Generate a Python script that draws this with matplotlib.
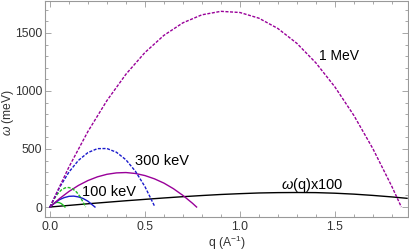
import matplotlib
matplotlib.use("Agg")
import matplotlib.pyplot as plt
from matplotlib.ticker import MultipleLocator

plt.rcParams['font.family'] = ['Liberation Sans', 'DejaVu Sans']
plt.rcParams['mathtext.fontset'] = 'custom'
plt.rcParams['mathtext.rm'] = 'Liberation Sans'
plt.rcParams['mathtext.it'] = 'Liberation Sans:italic'

# 1 MeV (dashed purple)
q_1mev = [0, 0.1, 0.2, 0.3, 0.4, 0.5, 0.6, 0.7, 0.8, 0.9, 1.0, 1.1, 1.2, 1.3, 1.4, 1.5, 1.6, 1.7, 1.8, 1.85]
w_1mev = [0, 345, 651, 917, 1144, 1331, 1479, 1587, 1656, 1686, 1676, 1627, 1538, 1410, 1242, 1035, 789, 503, 177, 0]

# 300 keV (dashed blue)
q_300 = [0, 0.05, 0.1, 0.15, 0.2, 0.25, 0.3, 0.35, 0.4, 0.45, 0.5, 0.553]
w_300 = [0, 167, 301, 402, 469, 503, 504, 472, 407, 308, 176, 0]

# solid purple
q_p = [0, 0.05, 0.1, 0.15, 0.2, 0.25, 0.3, 0.35, 0.4, 0.45, 0.5, 0.55, 0.6, 0.65, 0.7, 0.75, 0.772]
w_p = [0, 72, 134, 186, 228, 260, 282, 294, 297, 289, 271, 243, 206, 158, 100, 33, 0]

# solid blue
q_b = [0, 0.025, 0.05, 0.075, 0.1, 0.125, 0.15, 0.175, 0.2, 0.237]
w_b = [0, 35, 63, 81, 92, 94, 87, 73, 50, 0]

# 100 keV (dashed green)
q_100 = [0, 0.02, 0.04, 0.06, 0.08, 0.1, 0.12, 0.14, 0.16, 0.188]
w_100 = [0, 64, 113, 147, 165, 168, 156, 129, 86, 0]

# solid green
q_g = [0, 0.01, 0.02, 0.03, 0.04, 0.05, 0.06, 0.07, 0.079]
w_g = [0, 18, 30, 38, 40, 37, 29, 16, 0]

# omega(q) x 100 (black)
q_w = [0, 0.1, 0.2, 0.3, 0.4, 0.5, 0.6, 0.7, 0.8, 0.9, 1.0, 1.1, 1.2, 1.3, 1.4, 1.5, 1.6, 1.7, 1.8, 1.88]
w_w = [0, 14, 28, 41, 54, 66, 78, 89, 99, 108, 115, 121, 124, 125, 124, 119, 111, 100, 87, 75]

purple = '#990099'
blue = '#1a1acc'
green = '#22bb22'

fig = plt.figure(figsize=(4.09, 2.52), dpi=100)
ax = fig.add_axes([45 / 409, 1 - 217 / 252, 363 / 409, 216 / 252])

dash = (0, (2.2, 1.1))
ax.plot(q_w, w_w, color='black', lw=1.0)
ax.plot(q_g, w_g, color=green, lw=1.0)
ax.plot(q_b, w_b, color=blue, lw=1.0)
ax.plot(q_p, w_p, color=purple, lw=1.0)
ax.plot(q_100, w_100, color=green, lw=1.0, linestyle=dash)
ax.plot(q_300, w_300, color=blue, lw=1.0, linestyle=dash)
ax.plot(q_1mev, w_1mev, color=purple, lw=1.0, linestyle=dash)

ax.text(1.52, 1304, '1 MeV', fontsize=10, ha='center', va='center')
ax.text(0.59, 397, '300 keV', fontsize=10.5, ha='center', va='center')
ax.text(0.31, 131, '100 keV', fontsize=10.5, ha='center', va='center')
ax.text(1.38, 189, r'$\omega$(q)x100', fontsize=10.5, ha='center', va='center')

ax.set_xlim(-0.026, 1.885)
ax.set_ylim(-86, 1775)
ax.xaxis.set_major_locator(MultipleLocator(0.5))
ax.xaxis.set_minor_locator(MultipleLocator(0.1))
ax.yaxis.set_major_locator(MultipleLocator(500))
ax.yaxis.set_minor_locator(MultipleLocator(100))
ax.xaxis.set_major_formatter(plt.FuncFormatter(lambda v, p: '%.1f' % v))

for s in ax.spines.values():
    s.set_color('#999999')
    s.set_linewidth(0.8)
ax.tick_params(which='both', direction='in', top=True, right=True, color='#999999',
               labelsize=8.7, labelcolor='#333333', width=0.6)
ax.tick_params(which='major', length=4)
ax.tick_params(which='minor', length=2)
ax.tick_params(axis='y', pad=2)
ax.tick_params(axis='x', pad=3)

ax.set_xlabel('q (A$^{-1}$)', fontsize=8.7, color='#333333')
ax.set_ylabel(r'$\omega$ (meV)', fontsize=8.7, color='#333333')
ax.xaxis.set_label_coords(0.501, -0.08)
ax.yaxis.set_label_coords(-0.08, 0.486)

fig.savefig('out.png', dpi=100)
